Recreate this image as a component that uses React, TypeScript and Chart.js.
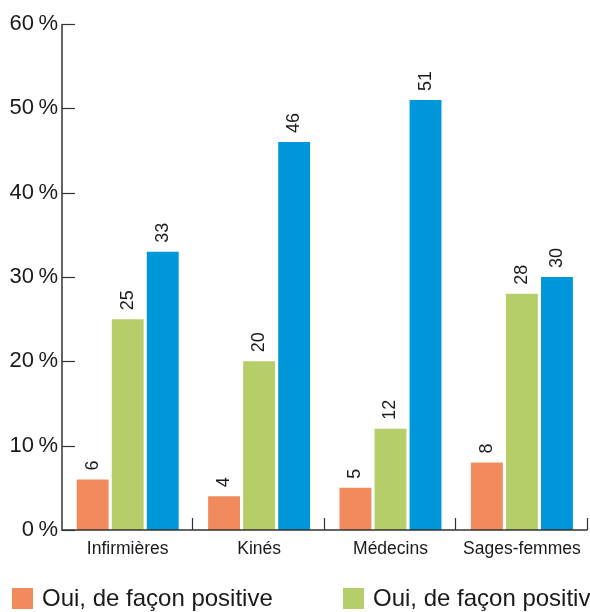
import React, { useEffect, useRef } from "react";
import { Chart, registerables } from "chart.js";

Chart.register(...registerables);

const categories = ["Infirmières", "Kinés", "Médecins", "Sages-femmes"];
const seriesNames = ["Oui, de façon positive", "Oui, de façon positive", "Non"];
const seriesA = [6, 4, 5, 8];
const seriesB = [25, 20, 12, 28];
const seriesC = [33, 46, 51, 30];
const yTicks = [0, 10, 20, 30, 40, 50, 60];
const colors = ["#F18B5E", "#B5CE6A", "#0096DA"];

const FONT = "'Liberation Sans', Arial, Helvetica, sans-serif";
const AXIS = "#333333";

const drawPlugin = {
  id: "customDraw",
  afterDraw(chart: any) {
    const ctx = chart.ctx;
    const area = chart.chartArea;
    const y = chart.scales.y;
    ctx.save();
    ctx.strokeStyle = AXIS;
    ctx.lineWidth = 1.5;
    ctx.beginPath();
    ctx.moveTo(area.left, y.getPixelForValue(60));
    ctx.lineTo(area.left, area.bottom);
    ctx.lineTo(area.right, area.bottom);
    ctx.stroke();
    ctx.lineWidth = 1.2;
    yTicks.forEach((v) => {
      const py = Math.round(y.getPixelForValue(v)) + 0.5;
      ctx.beginPath();
      ctx.moveTo(area.left, py);
      ctx.lineTo(area.left + 13, py);
      ctx.stroke();
    });
    const n = categories.length;
    for (let i = 1; i <= n; i++) {
      const px = area.left + ((area.right - area.left) * i) / n;
      const rx = Math.round(px) - 0.5;
      ctx.beginPath();
      ctx.moveTo(rx, area.bottom);
      ctx.lineTo(rx, area.bottom - 12);
      ctx.stroke();
    }
    const legendX = [12, 343, 674];
    ctx.font = `24px ${FONT}`;
    ctx.textAlign = "left";
    ctx.textBaseline = "alphabetic";
    seriesNames.forEach((name, i) => {
      ctx.fillStyle = colors[i];
      ctx.fillRect(legendX[i], 588, 21, 21);
      ctx.fillStyle = "#1a1a1a";
      ctx.fillText(name, legendX[i] + 30, 606);
    });
    ctx.restore();
  },
  afterDatasetsDraw(chart: any) {
    const ctx = chart.ctx;
    ctx.save();
    ctx.font = `18px ${FONT}`;
    ctx.fillStyle = "#1a1a1a";
    ctx.textAlign = "left";
    ctx.textBaseline = "middle";
    chart.data.datasets.forEach((ds: any, di: number) => {
      const meta = chart.getDatasetMeta(di);
      meta.data.forEach((bar: any, i: number) => {
        ctx.save();
        ctx.translate(bar.x, bar.y - 9);
        ctx.rotate(-Math.PI / 2);
        ctx.fillText(String(ds.data[i]), 0, 0);
        ctx.restore();
      });
    });
    ctx.restore();
  },
};

export default function App() {
  const ref = useRef<HTMLCanvasElement>(null);
  useEffect(() => {
    if (!ref.current) return;
    const chart = new Chart(ref.current, {
      type: "bar",
      data: {
        labels: categories,
        datasets: [seriesA, seriesB, seriesC].map((d, i) => ({
          label: seriesNames[i],
          data: d,
          backgroundColor: colors[i],
          borderWidth: 0,
          categoryPercentage: 0.8,
          barPercentage: 0.91,
        })),
      },
      options: {
        animation: false,
        responsive: false,
        maintainAspectRatio: false,
        layout: { padding: { top: 24, right: 2, left: 0, bottom: 0 } },
        plugins: { legend: { display: false }, tooltip: { enabled: false } },
        scales: {
          x: {
            grid: { display: false, drawTicks: false },
            border: { display: false },
            ticks: {
              color: "#1a1a1a",
              font: { family: FONT, size: 17.5 },
              padding: 9,
              maxRotation: 0,
            },
            afterFit(scale: any) {
              scale.height = 82;
            },
          },
          y: {
            min: 0,
            max: 60,
            grid: { display: false, drawTicks: false },
            border: { display: false },
            ticks: {
              stepSize: 10,
              color: "#1a1a1a",
              font: { family: FONT, size: 22 },
              padding: 4,
              callback: (v: any) => `${v}\u2009%`,
            },
            afterFit(scale: any) {
              scale.width = 62;
            },
          },
        },
      },
      plugins: [drawPlugin],
    });
    return () => chart.destroy();
  }, []);
  return (
    <div style={{ position: "fixed", left: 0, top: 0, width: 590, height: 612, background: "#fff" }}>
      <canvas ref={ref} width={590} height={612} style={{ display: "block" }} />
    </div>
  );
}
